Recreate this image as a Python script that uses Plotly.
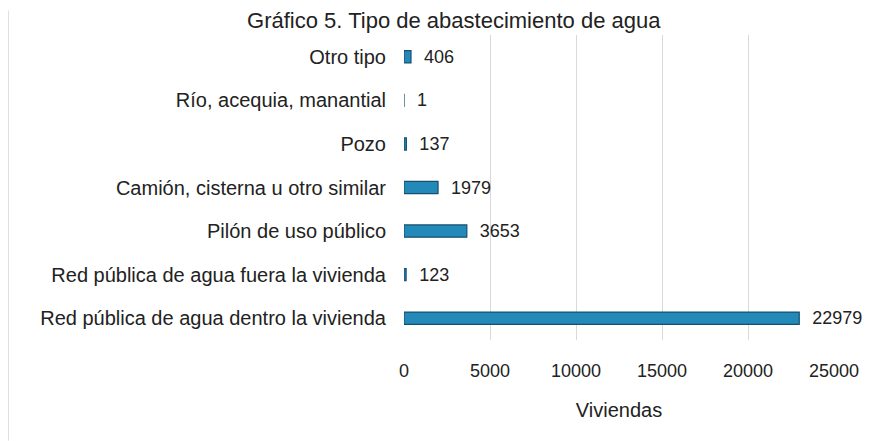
import plotly.graph_objects as go

categories = [
    "Otro tipo",
    "Río, acequia, manantial",
    "Pozo",
    "Camión, cisterna u otro similar",
    "Pilón de uso público",
    "Red pública de agua fuera la vivienda",
    "Red pública de agua dentro la vivienda",
]
viviendas = [406, 1, 137, 1979, 3653, 123, 22979]
x_ticks = [0, 5000, 10000, 15000, 20000, 25000]

font = "Liberation Sans, Arial, sans-serif"

fig = go.Figure(go.Bar(
    y=categories,
    x=viviendas,
    orientation="h",
    width=0.28,
    marker=dict(color="#2389b9", line=dict(color="#16506e", width=1.2)),
    text=["  " + str(v) for v in viviendas],
    textposition="outside",
    constraintext="none",
    textfont=dict(family=font, size=18, color="#222"),
    cliponaxis=False,
))

fig.update_layout(
    width=888, height=441,
    margin=dict(l=396, r=62, t=27, b=109),
    paper_bgcolor="white", plot_bgcolor="white",
    font=dict(family=font, size=18, color="#222"),
    title=dict(text="Gráfico 5. Tipo de abastecimiento de agua",
               x=0.502, xanchor="center", y=0.972, yanchor="middle",
               automargin=False,
               font=dict(family=font, size=22, color="#222")),
    showlegend=False,
    shapes=[dict(type="line", xref="paper", yref="paper",
                 x0=-0.92, x1=-0.92, y0=-0.33, y1=1.08,
                 line=dict(color="#dcdcdc", width=1))],
)
fig.update_yaxes(
    categoryorder="array", categoryarray=categories[::-1],
    showgrid=False, showline=False, ticks="",
    ticklabelstandoff=17,
    tickfont=dict(family=font, size=20),
)
fig.update_xaxes(
    range=[0, 25000], tickvals=x_ticks, ticktext=[str(t) for t in x_ticks],
    showgrid=True, gridcolor="#d9d9d9", gridwidth=1,
    zeroline=False, showline=False, ticks="",
    tickfont=dict(family=font, size=18), ticklabelstandoff=18,
    title=dict(text="Viviendas", font=dict(family=font, size=20), standoff=22),
)

fig.write_html("out.html")
